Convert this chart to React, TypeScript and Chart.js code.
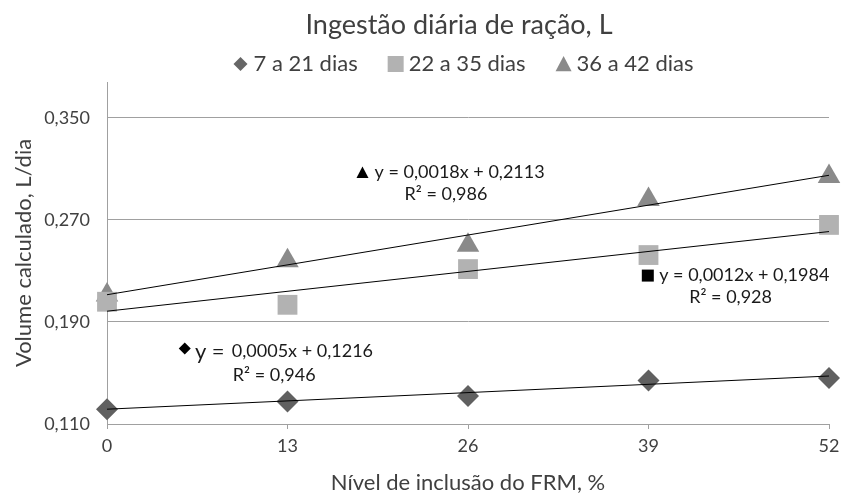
import React, { useEffect, useRef } from 'react';
import { Chart, registerables } from 'chart.js';

Chart.register(...registerables);

// ---- data ----
const levels = [0, 13, 26, 39, 52];
const seriesNames = ['7 a 21 dias', '22 a 35 dias', '36 a 42 dias'];
const days7to21 = [0.1216, 0.1276, 0.132, 0.144, 0.146];
const days22to35 = [0.2058, 0.2034, 0.2314, 0.2424, 0.266];
const days36to42 = [0.211, 0.238, 0.25, 0.286, 0.304];
const trendX = [0, 52];
const trend7to21 = [0.1216, 0.1476];
const trend22to35 = [0.1984, 0.2608];
const trend36to42 = [0.2113, 0.3049];
const yTicks = [0.11, 0.19, 0.27, 0.35];
const eq7to21 = ['y =', '0,0005x + 0,1216', 'R² = 0,946'];
const eq22to35 = ['y = 0,0012x + 0,1984', 'R² = 0,928'];
const eq36to42 = ['y = 0,0018x + 0,2113', 'R² = 0,986'];

const TITLE = 'Ingestão diária de ração, L';
const X_TITLE = 'Nível de inclusão do FRM, %';
const Y_TITLE = 'Volume calculado, L/dia';

const FONT = "Lato, 'Open Sans', sans-serif";
const TEXT = '#404040';
const GRID = '#a0a0a0';
const COLORS = ['#606060', '#b2b2b2', '#8a8a8a'];
const STYLES = ['diamond', 'square', 'triangle'];

function shape(ctx: CanvasRenderingContext2D, style: string, x: number, y: number, s: number, color: string) {
  ctx.save();
  ctx.fillStyle = color;
  ctx.beginPath();
  if (style === 'diamond') {
    ctx.moveTo(x, y - s);
    ctx.lineTo(x + s, y);
    ctx.lineTo(x, y + s);
    ctx.lineTo(x - s, y);
    ctx.closePath();
  } else if (style === 'square') {
    ctx.rect(x - s, y - s, 2 * s, 2 * s);
  } else {
    ctx.moveTo(x, y - s);
    ctx.lineTo(x + s, y + s * 0.9);
    ctx.lineTo(x - s, y + s * 0.9);
    ctx.closePath();
  }
  ctx.fill();
  ctx.restore();
}

// annotation anchors in data coordinates (x = level, y = value)
const annotations = [
  { sym: 'triangle', sx: 18.4, sy: 0.307, ss: 6, parts: [
    { t: eq36to42[0], x: 19.27, y: 0.307, size: 18 },
    { t: eq36to42[1], x: 21.43, y: 0.2897, size: 18 },
  ] },
  { sym: 'square', sx: 38.95, sy: 0.2263, ss: 6, parts: [
    { t: eq22to35[0], x: 39.77, y: 0.2263, size: 18 },
    { t: eq22to35[1], x: 41.93, y: 0.2097, size: 18 },
  ] },
  { sym: 'diamond', sx: 5.6, sy: 0.1691, ss: 6, parts: [
    { t: eq7to21[0], x: 6.33, y: 0.1668, size: 22 },
    { t: eq7to21[1], x: 8.99, y: 0.1668, size: 18 },
    { t: eq7to21[2], x: 9.06, y: 0.1486, size: 18 },
  ] },
];

const textPlugin = {
  id: 'texts',
  afterDraw(chart: any) {
    const ctx: CanvasRenderingContext2D = chart.ctx;
    const xs = chart.scales.x;
    const ys = chart.scales.y;
    ctx.save();
    // title
    ctx.fillStyle = TEXT;
    ctx.textBaseline = 'middle';
    ctx.textAlign = 'center';
    ctx.font = `27px ${FONT}`;
    ctx.fillText(TITLE, 459, 25);
    // legend
    ctx.font = `22px ${FONT}`;
    ctx.textAlign = 'left';
    const mW = 16, gap1 = 5, gap2 = 30;
    const widths = seriesNames.map((n) => ctx.measureText(n).width);
    const total = widths.reduce((a, w) => a + mW + gap1 + w, 0) + gap2 * (seriesNames.length - 1);
    let x = 463 - total / 2;
    const ly = 64;
    seriesNames.forEach((n, i) => {
      const s = STYLES[i] === 'diamond' ? 7 : 8;
      shape(ctx, STYLES[i], x + mW / 2, ly, s, i === 0 ? '#666666' : COLORS[i]);
      ctx.fillStyle = TEXT;
      ctx.fillText(n, x + mW + gap1, ly);
      x += mW + gap1 + widths[i] + gap2;
    });
    // equations
    annotations.forEach((a) => {
      shape(ctx, a.sym, xs.getPixelForValue(a.sx), ys.getPixelForValue(a.sy), a.ss, '#000000');
      a.parts.forEach((p) => {
        ctx.font = `${p.size}px ${FONT}`;
        ctx.fillStyle = '#1a1a1a';
        ctx.fillText(p.t, xs.getPixelForValue(p.x), ys.getPixelForValue(p.y));
      });
    });
    ctx.restore();
  },
};

export default function App() {
  const ref = useRef<HTMLCanvasElement | null>(null);
  useEffect(() => {
    if (!ref.current) return;
    const pts = (xv: number[], yv: number[]) => xv.map((x, i) => ({ x, y: yv[i] }));
    const trend = (yv: number[]) => ({
      data: pts(trendX, yv),
      showLine: true,
      pointRadius: 0,
      borderColor: '#000000',
      borderWidth: 1,
      clip: false,
      order: 0,
    });
    const chart = new Chart(ref.current, {
      type: 'scatter',
      data: {
        datasets: [
          trend(trend7to21) as any,
          trend(trend22to35) as any,
          trend(trend36to42) as any,
          { label: seriesNames[0], data: pts(levels, days7to21), pointStyle: 'rectRot', pointRadius: 11, backgroundColor: COLORS[0], borderWidth: 0, clip: false, order: 1 },
          { label: seriesNames[1], data: pts(levels, days22to35), pointStyle: 'rect', pointRadius: 14, backgroundColor: COLORS[1], borderWidth: 0, clip: false, order: 1 },
          { label: seriesNames[2], data: pts(levels, days36to42), pointStyle: 'triangle', pointRadius: 13, backgroundColor: COLORS[2], borderWidth: 0, clip: false, order: 1 },
        ],
      },
      options: {
        responsive: false,
        animation: false,
        layout: { padding: { top: 82, right: 13, left: 0, bottom: 0 } },
        plugins: { legend: { display: false }, title: { display: false }, tooltip: { enabled: false } },
        scales: {
          x: {
            type: 'linear',
            min: 0,
            max: 52,
            afterBuildTicks: (s: any) => { s.ticks = levels.map((v) => ({ value: v })); },
            afterFit: (s: any) => { s.height = 72; s.paddingLeft = 0; s.paddingRight = 0; },
            grid: { display: true, drawOnChartArea: false, drawTicks: true, tickLength: 5, color: GRID },
            border: { color: GRID, width: 1 },
            ticks: { padding: 6, autoSkip: false, maxRotation: 0, color: TEXT, font: { family: FONT, size: 18 } },
            title: { display: true, text: X_TITLE, color: TEXT, font: { family: FONT, size: 22 }, padding: { top: 0, bottom: 0 } },
          },
          y: {
            min: 0.11,
            max: 0.378,
            afterBuildTicks: (s: any) => { s.ticks = yTicks.map((v) => ({ value: v })); },
            afterFit: (s: any) => { s.width = 107; s.paddingTop = 0; s.paddingBottom = 0; },
            grid: { color: GRID, drawTicks: false },
            border: { color: GRID, width: 1 },
            ticks: {
              padding: 17,
              color: TEXT,
              font: { family: FONT, size: 18 },
              callback: (v: any) => Number(v).toFixed(3).replace('.', ','),
            },
            title: { display: true, text: Y_TITLE, color: TEXT, font: { family: FONT, size: 22 }, padding: { top: 11, bottom: 0 } },
          },
        },
      },
      plugins: [textPlugin],
    });
    return () => chart.destroy();
  }, []);
  return (
    <div style={{ position: 'absolute', left: 0, top: 0, width: 843, height: 496, background: '#fff' }}>
      <canvas ref={ref} width={843} height={496} />
    </div>
  );
}
